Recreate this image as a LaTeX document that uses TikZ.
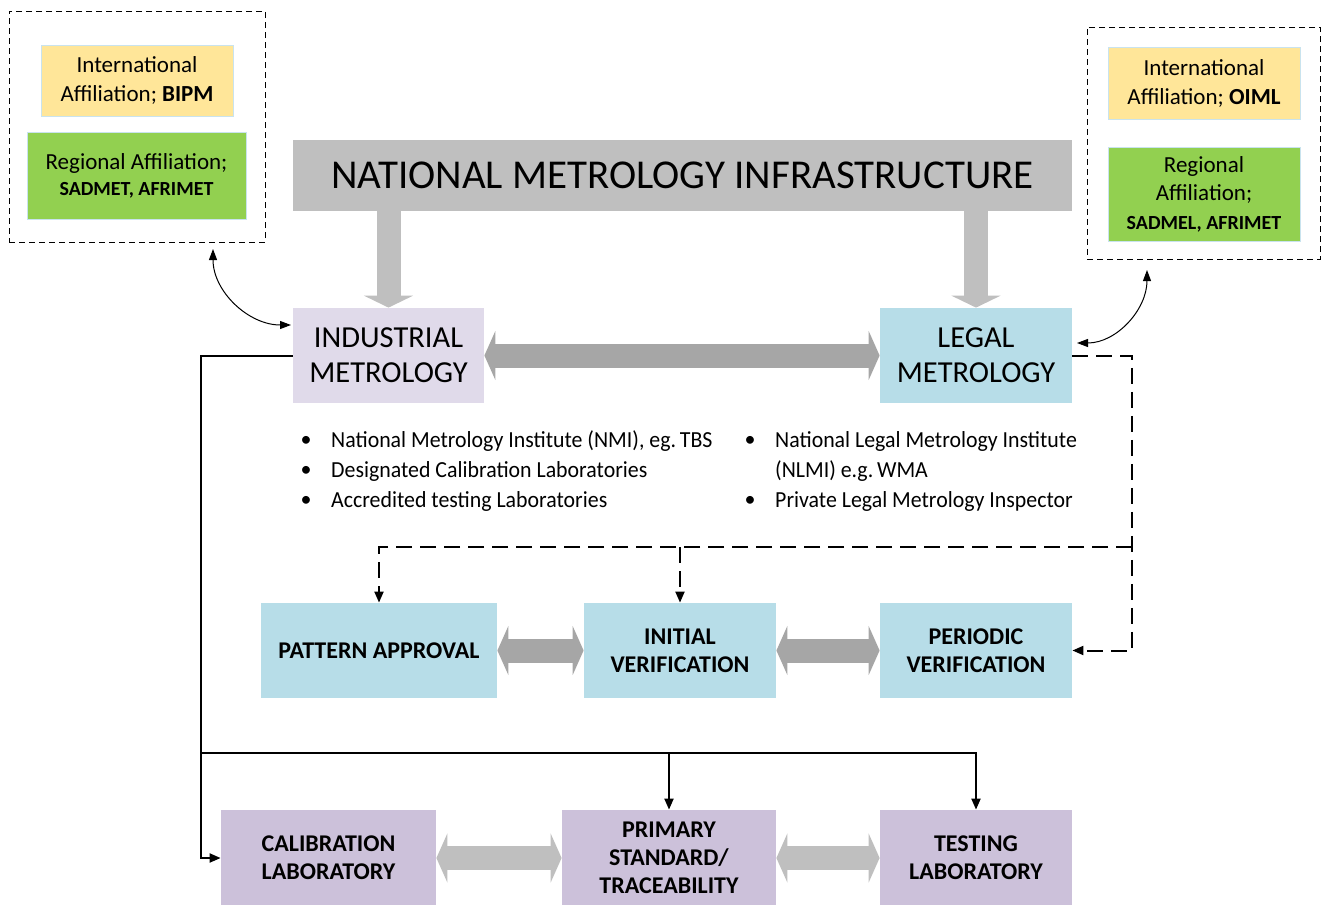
\documentclass[tikz,border=0pt]{standalone}
\usepackage{fontspec}
\setmainfont{Carlito}
\newfontfamily\condfont[FakeStretch=0.95]{Carlito}
\newfontfamily\widebold[FakeStretch=1.0]{Carlito}
\usetikzlibrary{arrows.meta,calc}
\definecolor{hdrgray}{HTML}{BFBFBF}
\definecolor{darkarrow}{HTML}{A6A6A6}
\definecolor{lightarrow}{HTML}{BFBFBF}
\definecolor{indfill}{HTML}{E0DAEA}
\definecolor{legfill}{HTML}{B7DDE8}
\definecolor{labfill}{HTML}{CCC1DA}
\definecolor{yelfill}{HTML}{FFE699}
\definecolor{grnfill}{HTML}{92D050}
\definecolor{edgeblue}{HTML}{C9E3EE}
\begin{document}
\begin{tikzpicture}[x=1pt,y=-1pt,
  box/.style={inner sep=0pt, align=center, draw=edgeblue, line width=0.8pt},
  frame/.style={draw=black, line width=1pt, dash pattern=on 6pt off 4pt, inner sep=0pt},
  blkdown/.style={line width=24pt, draw=lightarrow, -{Triangle[length=12pt,width=49pt]}},
  blkdbl/.style={line width=24pt, {Triangle[length=11pt,width=49pt]}-{Triangle[length=11pt,width=49pt]}},
  dashline/.style={line width=2pt, dash pattern=on 16pt off 8pt},
  solidline/.style={line width=2pt},
  tip/.style={-{Triangle[length=11pt,width=9pt]}},
  boldtxt/.style={font=\bfseries\fontsize{24}{28}\selectfont},
  bul/.style={anchor=west, inner sep=0pt, font=\condfont\fontsize{23}{26}\selectfont},
  dot/.style={inner sep=0pt, font=\fontsize{22}{24}\selectfont}
]
\useasboundingbox (0,0) rectangle (1323,905);

% affiliation frames
\node[frame, minimum width=256pt, minimum height=231pt] (lframe) at (137,126.5) {};
\node[box, fill=yelfill, minimum width=192pt, minimum height=71pt, font=\fontsize{23}{29}\selectfont] (lyel) at (137,80.5) {International\\Affiliation; \textbf{BIPM}};
\node[box, fill=grnfill, minimum width=219pt, minimum height=87pt, font=\fontsize{23}{26}\selectfont] (lgrn) at (136.5,175.5) {Regional Affiliation;\\{\bfseries\fontsize{20}{26}\selectfont SADMET, AFRIMET}};

\node[frame, minimum width=233pt, minimum height=232pt] (rframe) at (1203.5,143) {};
\node[box, fill=yelfill, minimum width=192pt, minimum height=72pt, font=\fontsize{23}{29}\selectfont] (ryel) at (1204,83) {International\\Affiliation; \textbf{OIML}};
\node[box, fill=grnfill, minimum width=192pt, minimum height=94pt, font=\fontsize{23}{28.5}\selectfont] (rgrn) at (1204,194) {Regional\\Affiliation;\\{\bfseries\fontsize{20}{28.5}\selectfont SADMEL, AFRIMET}};

% header and main boxes
\node[box, fill=hdrgray, draw=none, minimum width=779pt, minimum height=71pt, font=\fontsize{41}{44}\selectfont] (hdr) at (682.5,175.5) {NATIONAL METROLOGY INFRASTRUCTURE};
\node[box, fill=indfill, draw=none, minimum width=191pt, minimum height=95pt, font=\fontsize{30.5}{35}\selectfont] (ind) at (388.5,355.5) {INDUSTRIAL\\METROLOGY};
\node[box, fill=legfill, draw=none, minimum width=192pt, minimum height=95pt, font=\fontsize{30.5}{35}\selectfont] (leg) at (976,355.5) {LEGAL\\METROLOGY};

% block arrows
\draw[blkdown] (hdr.south -| ind.north) -- (ind.north);
\draw[blkdown] (hdr.south -| leg.north) -- (leg.north);
\draw[blkdbl, draw=darkarrow] (ind.east) -- (leg.west);

% bullet lists
\node[dot] (d1) at (306,441) {•};
\node[dot] (d2) at (306,471) {•};
\node[dot] (d3) at (306,501) {•};
\node[bul] (b1) at (331,441) {National Metrology Institute (NMI), eg.\,TBS};
\node[bul] (b2) at (331,471) {Designated Calibration Laboratories};
\node[bul] (b3) at (331,501) {Accredited testing Laboratories};
\node[dot] (d4) at (750,441) {•};
\node[dot] (d5) at (750,501) {•};
\node[bul] (b4) at (775,441) {National Legal Metrology Institute};
\node[bul] (b5) at (775,471) {(NLMI) e.g.\,WMA};
\node[bul] (b6) at (775,501) {Private Legal Metrology Inspector};

% legal row
\node[box, fill=legfill, draw=none, minimum width=236pt, minimum height=95pt, boldtxt] (pat) at (379,650.5) {PATTERN APPROVAL};
\node[box, fill=legfill, draw=none, minimum width=192pt, minimum height=95pt, boldtxt] (ini) at (680,650.5) {INITIAL\\VERIFICATION};
\node[box, fill=legfill, draw=none, minimum width=192pt, minimum height=95pt, boldtxt] (per) at (976,650.5) {PERIODIC\\VERIFICATION};
\draw[blkdbl, draw=darkarrow] (pat.east) -- (ini.west);
\draw[blkdbl, draw=darkarrow] (ini.east) -- (per.west);

% lab row
\node[box, fill=labfill, draw=none, minimum width=215pt, minimum height=96pt, boldtxt] (cal) at (328.5,858) {CALIBRATION\\LABORATORY};
\node[box, fill=labfill, draw=none, minimum width=214pt, minimum height=96pt, boldtxt] (pri) at (669,858) {PRIMARY\\STANDARD/\\TRACEABILITY};
\node[box, fill=labfill, draw=none, minimum width=192pt, minimum height=96pt, boldtxt] (tst) at (976,858) {TESTING\\LABORATORY};
\draw[blkdbl, draw=lightarrow] (cal.east) -- (pri.west);
\draw[blkdbl, draw=lightarrow] (pri.east) -- (tst.west);

% dashed connectors from legal metrology
\coordinate (dtop) at (1132,355.5);
\coordinate (dmid) at (1132,547);
\draw[dashline, tip] (leg.east) -- (dtop) |- (per.east);
\draw[dashline, tip] (dmid) -| (pat.north);
\draw[dashline, tip] (dmid -| ini.north) -- (ini.north);

% solid connectors from industrial metrology
\coordinate (sl) at (201,355.5);
\coordinate (sm) at (201,753);
\draw[solidline, tip] (ind.west) -- (sl) |- (cal.west);
\draw[solidline, tip] (sm) -| (tst.north);
\draw[solidline, tip] (sm -| pri.north) -- (pri.north);

% curved affiliation arrows
\coordinate (cla) at (213,249);
\coordinate (clb) at (291,325);
\coordinate (cra) at (1147,270);
\coordinate (crb) at (1077,343);
\draw[line width=1pt, {Triangle[length=11pt,width=8pt]}-{Triangle[length=11pt,width=8pt]}] (cla) to[out=-90,in=180] (clb);
\draw[line width=1pt, {Triangle[length=11pt,width=8pt]}-{Triangle[length=11pt,width=8pt]}] (cra) to[out=-90,in=0] (crb);
\end{tikzpicture}
\end{document}
